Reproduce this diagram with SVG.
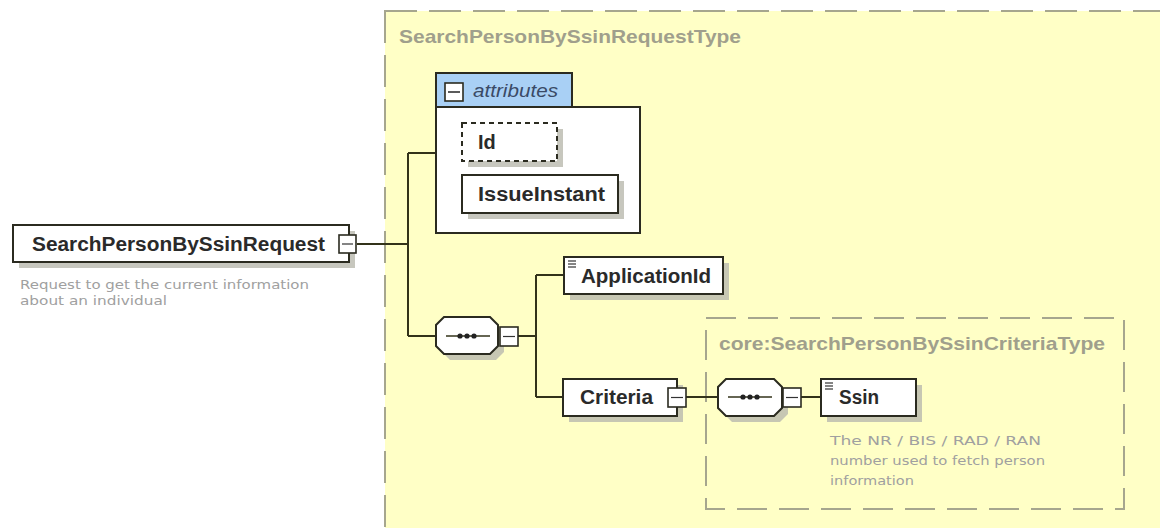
<svg xmlns="http://www.w3.org/2000/svg" width="1160" height="528" viewBox="0 0 1160 528">
<style>
.bg{fill:#ffffff}
.typebox{fill:#ffffc6;stroke:#a6a68e;stroke-width:2;stroke-dasharray:32 12}
.innerbox{fill:none;stroke:#a6a68e;stroke-width:2;stroke-dasharray:30 12}
.title{font-family:"Liberation Sans",Arial,sans-serif;font-weight:bold;font-size:19px;fill:#a09f8c}
.node{fill:#ffffff;stroke:#2b2b20;stroke-width:2}
.dashnode{fill:#ffffff;stroke:#2b2b20;stroke-width:2;stroke-dasharray:5 4}
.shadow{fill:#b9b9ae;opacity:0.8}
.name{font-family:"Liberation Sans",Arial,sans-serif;font-weight:bold;font-size:20px;fill:#2a2a2a}
.attr{font-family:"Liberation Sans",Arial,sans-serif;font-style:italic;font-size:18px;fill:#3a4a66}
.desc{font-family:"DejaVu Sans",Verdana,sans-serif;font-size:13px;fill:#a0a0a0}
.tab{fill:#a9d0f5;stroke:#2b2b20;stroke-width:2}
.minus{fill:#ffffff;stroke:#2b2b20;stroke-width:1.6}
.conn{fill:none;stroke:#33331a;stroke-width:2}
.icon{stroke:#333;stroke-width:1.2}
</style>
<rect class="bg" x="0" y="0" width="1160" height="528"/>

<g id="type-SearchPersonBySsinRequestType">
<rect class="typebox" x="385" y="11" width="820" height="560"/>
<text class="title" x="399" y="43" textLength="342" lengthAdjust="spacingAndGlyphs">SearchPersonBySsinRequestType</text>
</g>

<g id="type-core-SearchPersonBySsinCriteriaType">
<rect class="innerbox" x="706" y="318" width="418" height="191"/>
<text class="title" x="719" y="350" textLength="386" lengthAdjust="spacingAndGlyphs">core:SearchPersonBySsinCriteriaType</text>
</g>

<g id="connectors">
<path class="conn" d="M357,244 H408 M408,153 V336 M408,153 H436 M408,336 H436"/>
<path class="conn" d="M518,336 H536 M536,275 V397 M536,275 H564 M536,397 H563"/>
<path class="conn" d="M686,397 H718 M801,397 H821"/>
</g>

<g id="node-SearchPersonBySsinRequest">
<rect class="shadow" x="19" y="231" width="336" height="37"/>
<rect class="node" x="13" y="225" width="336" height="37"/>
<text class="name" x="32" y="251" textLength="293" lengthAdjust="spacingAndGlyphs">SearchPersonBySsinRequest</text>
<rect class="minus" x="339" y="235" width="17" height="18"/>
<line class="icon" x1="342" y1="244" x2="353" y2="244"/>
<text class="desc" x="20" y="289" textLength="289" lengthAdjust="spacingAndGlyphs">Request to get the current information</text>
<text class="desc" x="20" y="305" textLength="147" lengthAdjust="spacingAndGlyphs">about an individual</text>
</g>

<g id="node-attributes">
<rect class="node" x="436" y="107" width="204" height="126"/>
<rect class="tab" x="436" y="73" width="136" height="34"/>
<rect class="minus" x="445" y="83" width="18" height="18"/>
<line class="icon" x1="448" y1="92" x2="460" y2="92" style="stroke-width:1.6"/>
<text class="attr" x="473" y="97" textLength="85" lengthAdjust="spacingAndGlyphs">attributes</text>
</g>

<g id="node-Id">
<rect class="shadow" x="468" y="129" width="95" height="38"/>
<rect class="dashnode" x="462" y="123" width="95" height="38"/>
<text class="name" x="478" y="149">Id</text>
</g>

<g id="node-IssueInstant">
<rect class="shadow" x="468" y="181" width="156" height="38"/>
<rect class="node" x="462" y="175" width="156" height="38"/>
<text class="name" x="478" y="201" textLength="127" lengthAdjust="spacingAndGlyphs">IssueInstant</text>
</g>

<g id="node-sequence1">
<path class="shadow" d="M450,323 H496 L504,331 V352 L496,360 H450 L442,352 V331 Z"/>
<path class="node" d="M444,317 H490 L498,325 V346 L490,354 H444 L436,346 V325 Z"/>
<line class="conn" x1="446" y1="336" x2="490" y2="336" style="stroke-width:1.6"/>
<circle cx="460" cy="336" r="2.6" fill="#222"/>
<circle cx="467" cy="336" r="2.6" fill="#222"/>
<circle cx="474" cy="336" r="2.6" fill="#222"/>
<rect class="minus" x="500" y="327" width="18" height="19"/>
<line class="icon" x1="503" y1="336.5" x2="515" y2="336.5"/>
</g>

<g id="node-ApplicationId">
<rect class="shadow" x="570" y="263" width="159" height="37"/>
<rect class="node" x="564" y="257" width="159" height="37"/>
<line class="icon" x1="568" y1="261" x2="576" y2="261"/>
<line class="icon" x1="568" y1="264" x2="576" y2="264"/>
<line class="icon" x1="568" y1="267" x2="576" y2="267"/>
<text class="name" x="581" y="283" textLength="130" lengthAdjust="spacingAndGlyphs">ApplicationId</text>
</g>

<g id="node-Criteria">
<rect class="shadow" x="569" y="385" width="114" height="37"/>
<rect class="node" x="563" y="379" width="114" height="37"/>
<text class="name" x="580" y="404" textLength="73" lengthAdjust="spacingAndGlyphs">Criteria</text>
<rect class="minus" x="668" y="388" width="18" height="19"/>
<line class="icon" x1="671" y1="397.5" x2="683" y2="397.5"/>
</g>

<g id="node-sequence2">
<path class="shadow" d="M732,385 H780 L788,393 V414 L780,422 H732 L724,414 V393 Z"/>
<path class="node" d="M726,379 H774 L782,387 V408 L774,416 H726 L718,408 V387 Z"/>
<line class="conn" x1="728" y1="397" x2="772" y2="397" style="stroke-width:1.6"/>
<circle cx="743" cy="397" r="2.6" fill="#222"/>
<circle cx="750" cy="397" r="2.6" fill="#222"/>
<circle cx="757" cy="397" r="2.6" fill="#222"/>
<rect class="minus" x="783" y="388" width="18" height="19"/>
<line class="icon" x1="786" y1="397.5" x2="798" y2="397.5"/>
</g>

<g id="node-Ssin">
<rect class="shadow" x="827" y="385" width="95" height="37"/>
<rect class="node" x="821" y="379" width="95" height="37"/>
<line class="icon" x1="825" y1="383" x2="833" y2="383"/>
<line class="icon" x1="825" y1="386" x2="833" y2="386"/>
<line class="icon" x1="825" y1="389" x2="833" y2="389"/>
<text class="name" x="839" y="404" textLength="40" lengthAdjust="spacingAndGlyphs">Ssin</text>
<text class="desc" x="830" y="445" textLength="211" lengthAdjust="spacingAndGlyphs">The NR / BIS / RAD / RAN</text>
<text class="desc" x="830" y="465" textLength="215" lengthAdjust="spacingAndGlyphs">number used to fetch person</text>
<text class="desc" x="830" y="485" textLength="84" lengthAdjust="spacingAndGlyphs">information</text>
</g>
</svg>
